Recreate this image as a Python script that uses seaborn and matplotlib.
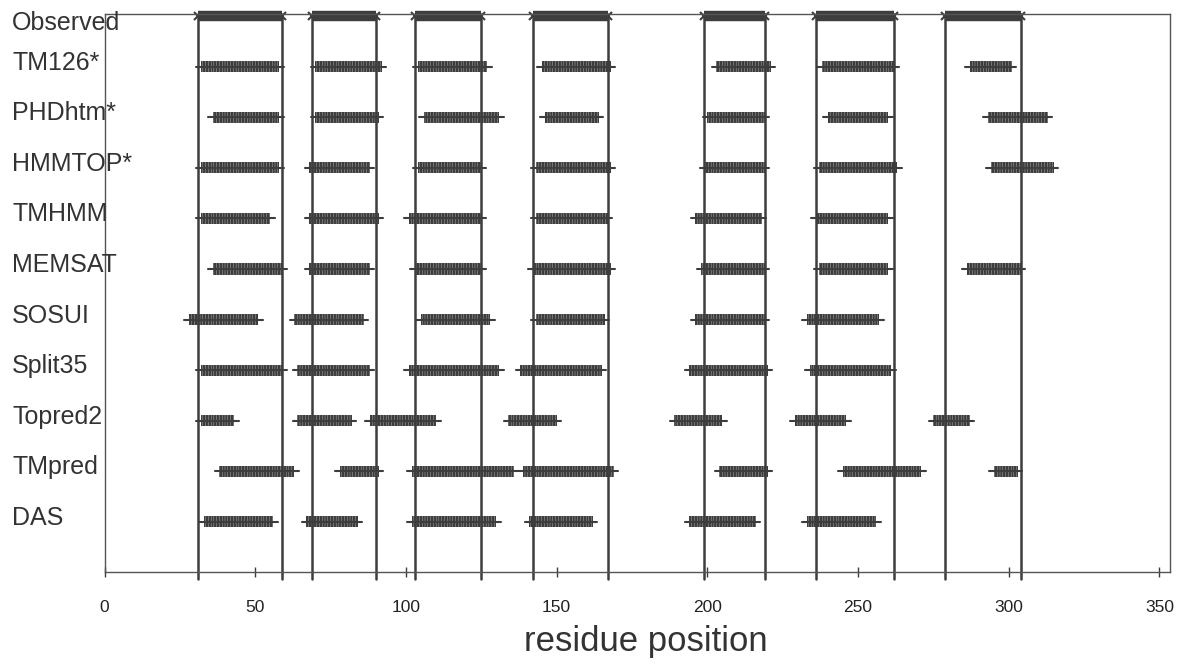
import pandas as pd
import seaborn as sns
import matplotlib.pyplot as plt
from matplotlib import transforms

rows = ["Observed", "TM126*", "PHDhtm*", "HMMTOP*", "TMHMM", "MEMSAT",
        "SOSUI", "Split35", "Topred2", "TMpred", "DAS"]

# observed transmembrane segments (residue ranges)
obs_start = [31, 69, 103, 142, 199, 236, 279]
obs_end = [59, 90, 125, 167, 219, 262, 304]

# predicted segments per method
tm126_start = [32, 70, 104, 145, 203, 238, 287]
tm126_end = [58, 92, 127, 168, 221, 262, 301]
phdhtm_start = [36, 70, 106, 146, 200, 240, 293]
phdhtm_end = [58, 91, 131, 164, 219, 260, 313]
hmmtop_start = [32, 68, 104, 143, 199, 237, 294]
hmmtop_end = [58, 88, 125, 168, 219, 263, 315]
tmhmm_start = [32, 68, 101, 143, 196, 236]
tmhmm_end = [55, 91, 125, 167, 218, 260]
memsat_start = [36, 68, 103, 142, 198, 237, 286]
memsat_end = [59, 88, 125, 168, 219, 260, 304]
sosui_start = [28, 63, 105, 143, 196, 233]
sosui_end = [51, 86, 128, 166, 219, 257]
split35_start = [32, 64, 101, 138, 194, 234]
split35_end = [59, 88, 131, 165, 220, 261]
topred2_start = [32, 64, 88, 134, 189, 229, 275]
topred2_end = [43, 82, 110, 150, 205, 246, 287]
tmpred_start = [38, 78, 102, 139, 204, 245, 295]
tmpred_end = [63, 91, 136, 169, 220, 271, 303]
das_start = [33, 67, 102, 141, 194, 233]
das_end = [56, 84, 130, 162, 216, 256]

x_ticks = [0, 50, 100, 150, 200, 250, 300, 350]

tools = {
    "TM126*": (tm126_start, tm126_end),
    "PHDhtm*": (phdhtm_start, phdhtm_end),
    "HMMTOP*": (hmmtop_start, hmmtop_end),
    "TMHMM": (tmhmm_start, tmhmm_end),
    "MEMSAT": (memsat_start, memsat_end),
    "SOSUI": (sosui_start, sosui_end),
    "Split35": (split35_start, split35_end),
    "Topred2": (topred2_start, topred2_end),
    "TMpred": (tmpred_start, tmpred_end),
    "DAS": (das_start, das_end),
}

segs = []
for i, name in enumerate(rows[1:], start=1):
    starts, ends = tools[name]
    for k, (s, e) in enumerate(zip(starts, ends)):
        segs.append(dict(tool=name, row=i, start=s, end=e, seg=f"{name}-{k}"))
seg_df = pd.DataFrame(segs)

# centre line of each segment sticks out a little past the residue ticks
ext = 1.5
line_df = pd.concat([seg_df.assign(pos=seg_df.start - ext),
                     seg_df.assign(pos=seg_df.end + ext)])

sns.set_theme(style="white")
plt.rcParams['font.family'] = ['Liberation Sans', 'DejaVu Sans']
plt.rcParams['hatch.linewidth'] = 1.8

ink = '#3d3d3d'
fig = plt.figure(figsize=(11.79, 6.65), dpi=100)
ax = fig.add_axes([104.5 / 1179, 93 / 665, 1065.5 / 1179, 558 / 665])

sns.lineplot(data=line_df, x='pos', y='row', units='seg', estimator=None,
             sort=False, color=ink, lw=1.5, ax=ax, legend=False)
ax.barh(seg_df.row, seg_df.end - seg_df.start, left=seg_df.start, height=0.22,
        facecolor='none', edgecolor=ink, linewidth=0, hatch='||||||')

# observed row: thick bars on the top edge
ax.hlines([0] * len(obs_start), obs_start, obs_end, color=ink, lw=7.5, clip_on=False)
ax.plot(obs_start + obs_end, [0] * (2 * len(obs_start)), 'x', color=ink,
        ms=6, mew=1.5, clip_on=False)
for b in obs_start + obs_end:
    ax.axvline(b, ymin=-0.012, ymax=1, color=ink, lw=1.8, clip_on=False)

ax.set_xlim(0, 353.5)
ax.set_ylim(10.99, -0.04)
ax.set_yticks([])
ax.set_xticks(x_ticks)
ax.set_xticklabels([str(t) for t in x_ticks])
ax.tick_params(axis='x', bottom=True, direction='inout', length=7, width=1,
               pad=17, labelsize=12.5, colors=ink, labelcolor='#222222')
ax.set_xlabel('')
ax.set_ylabel('')
for sp in ax.spines.values():
    sp.set_color('#555555')
    sp.set_linewidth(1)

trans = transforms.blended_transform_factory(fig.transFigure, ax.transData)
for i, name in enumerate(rows):
    dy = 0.14 if i == 0 else -0.08
    ax.text(12 / 1179, i + dy, name, transform=trans, ha='left', va='center',
            fontsize=18, color='#333333', clip_on=False)

fig.text(645.5 / 1179, 1 - 642 / 665, 'residue position', ha='center',
         va='center', fontsize=25, color='#333333')

fig.savefig('out.png', dpi=100)
